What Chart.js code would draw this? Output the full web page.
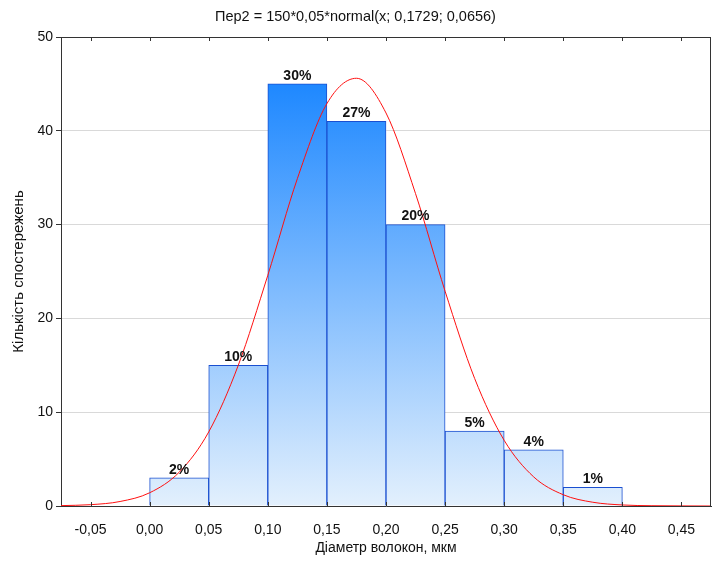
<!DOCTYPE html>
<html>
<head>
<meta charset="utf-8">
<script src="https://cdn.jsdelivr.net/npm/chart.js@4/dist/chart.umd.min.js"></script>
<style>
  html, body { margin: 0; padding: 0; background: #fff; }
  #wrap { width: 712px; height: 563px; }
</style>
</head>
<body>
<div id="wrap"><canvas id="grafico" width="712" height="563"></canvas></div>
<script>
// histogram bins (centres), counts and their labels
const binCentres = [0.025, 0.075, 0.125, 0.175, 0.225, 0.275, 0.325, 0.375];
const counts = [3, 15, 45, 41, 30, 8, 6, 2];
const percents = ["2%", "10%", "30%", "27%", "20%", "5%", "4%", "1%"];

// fitted normal curve
const curveX = [-0.075, -0.05, -0.025, 0.00, 0.025, 0.05, 0.075, 0.10, 0.125, 0.15, 0.175,
                0.20, 0.225, 0.25, 0.275, 0.30, 0.325, 0.35, 0.375, 0.40, 0.425, 0.45, 0.475];
const curveY = [0.04, 0.14, 0.48, 1.41, 3.6, 7.9, 15.0, 24.6, 34.9, 42.9, 45.6,
                41.9, 33.3, 22.9, 13.6, 7.0, 3.1, 1.2, 0.4, 0.11, 0.03, 0.01, 0.0];

const xTicks = [-0.05, 0.00, 0.05, 0.10, 0.15, 0.20, 0.25, 0.30, 0.35, 0.40, 0.45];

const FONT = "Arial, 'Liberation Sans', sans-serif";

function barGradient(c) {
    const chart = c.chart;
    if (!chart.chartArea) return "#8ec3ff";
    const y = chart.scales.y;
    const g = chart.ctx.createLinearGradient(0, y.getPixelForValue(0), 0, y.getPixelForValue(45));
    g.addColorStop(0, "#e3f0fd");
    g.addColorStop(1, "#1e88ff");
    return g;
}

const moldura = {
    id: "moldura",
    afterDatasetsDraw(chart) {
        const { ctx, chartArea: a, scales } = chart;
        ctx.save();
        // percent labels
        ctx.fillStyle = "#111";
        ctx.font = "bold 14px " + FONT;
        ctx.textAlign = "center";
        ctx.textBaseline = "bottom";
        binCentres.forEach((x, i) => {
            ctx.fillText(percents[i], scales.x.getPixelForValue(x), scales.y.getPixelForValue(counts[i]) - 1);
        });
        // frame: top and right border
        ctx.strokeStyle = "#333";
        ctx.lineWidth = 1;
        ctx.beginPath();
        ctx.moveTo(a.left, a.top + 0.5);
        ctx.lineTo(a.right, a.top + 0.5);
        ctx.moveTo(a.right - 0.5, a.top);
        ctx.lineTo(a.right - 0.5, a.bottom);
        // inward tick marks on top and bottom
        xTicks.forEach(v => {
            const px = Math.round(scales.x.getPixelForValue(v)) + 0.5;
            ctx.moveTo(px, a.top);
            ctx.lineTo(px, a.top + 4);
            ctx.moveTo(px, a.bottom);
            ctx.lineTo(px, a.bottom - 4);
        });
        ctx.stroke();
        ctx.restore();
    }
};

new Chart(document.getElementById("grafico"), {
    type: "bar",
    data: {
        datasets: [{
            type: "line",
            data: curveX.map((x, i) => ({ x: x, y: curveY[i] })),
            borderColor: "#ff1010",
            borderWidth: 1,
            pointRadius: 0,
            cubicInterpolationMode: "monotone",
            order: 0
        }, {
            type: "bar",
            data: binCentres.map((x, i) => ({ x: x, y: counts[i] })),
            backgroundColor: barGradient,
            borderColor: "#1a4fd0",
            borderWidth: 1,
            barPercentage: 1,
            categoryPercentage: 1,
            order: 1
        }]
    },
    options: {
        responsive: false,
        animation: false,
        layout: { padding: { right: 1 } },
        plugins: {
            legend: { display: false },
            tooltip: { enabled: false },
            title: {
                display: true,
                text: "Пер2 = 150*0,05*normal(x; 0,1729; 0,0656)",
                color: "#111",
                font: { family: FONT, size: 14.5, weight: "normal" },
                padding: { top: 8, bottom: 11.6 }
            }
        },
        scales: {
            x: {
                type: "linear",
                min: -0.075,
                max: 0.475,
                offset: false,
                afterBuildTicks: s => { s.ticks = xTicks.map(v => ({ value: v })); },
                afterFit: s => { s.height = 57; },
                grid: { display: false, offset: false },
                border: { color: "#333", width: 1 },
                ticks: {
                    color: "#111",
                    padding: 8,
                    maxRotation: 0,
                    font: { family: FONT, size: 14 },
                    callback: v => v.toFixed(2).replace(".", ",")
                },
                title: {
                    display: true,
                    text: "Діаметр волокон, мкм",
                    color: "#111",
                    font: { family: FONT, size: 14 },
                    padding: { top: 4, bottom: 6 }
                }
            },
            y: {
                min: 0,
                max: 50,
                afterFit: s => { s.width = 61; },
                grid: { color: "#d9d9d9", tickColor: "#333", tickLength: 5 },
                border: { color: "#333", width: 1 },
                ticks: {
                    stepSize: 10,
                    color: "#111",
                    padding: 3,
                    font: { family: FONT, size: 14 }
                },
                title: {
                    display: true,
                    text: "Кількість спостережень",
                    color: "#111",
                    font: { family: FONT, size: 15 },
                    padding: { top: 10, bottom: 0 }
                }
            }
        }
    },
    plugins: [moldura]
});
</script>
</body>
</html>
